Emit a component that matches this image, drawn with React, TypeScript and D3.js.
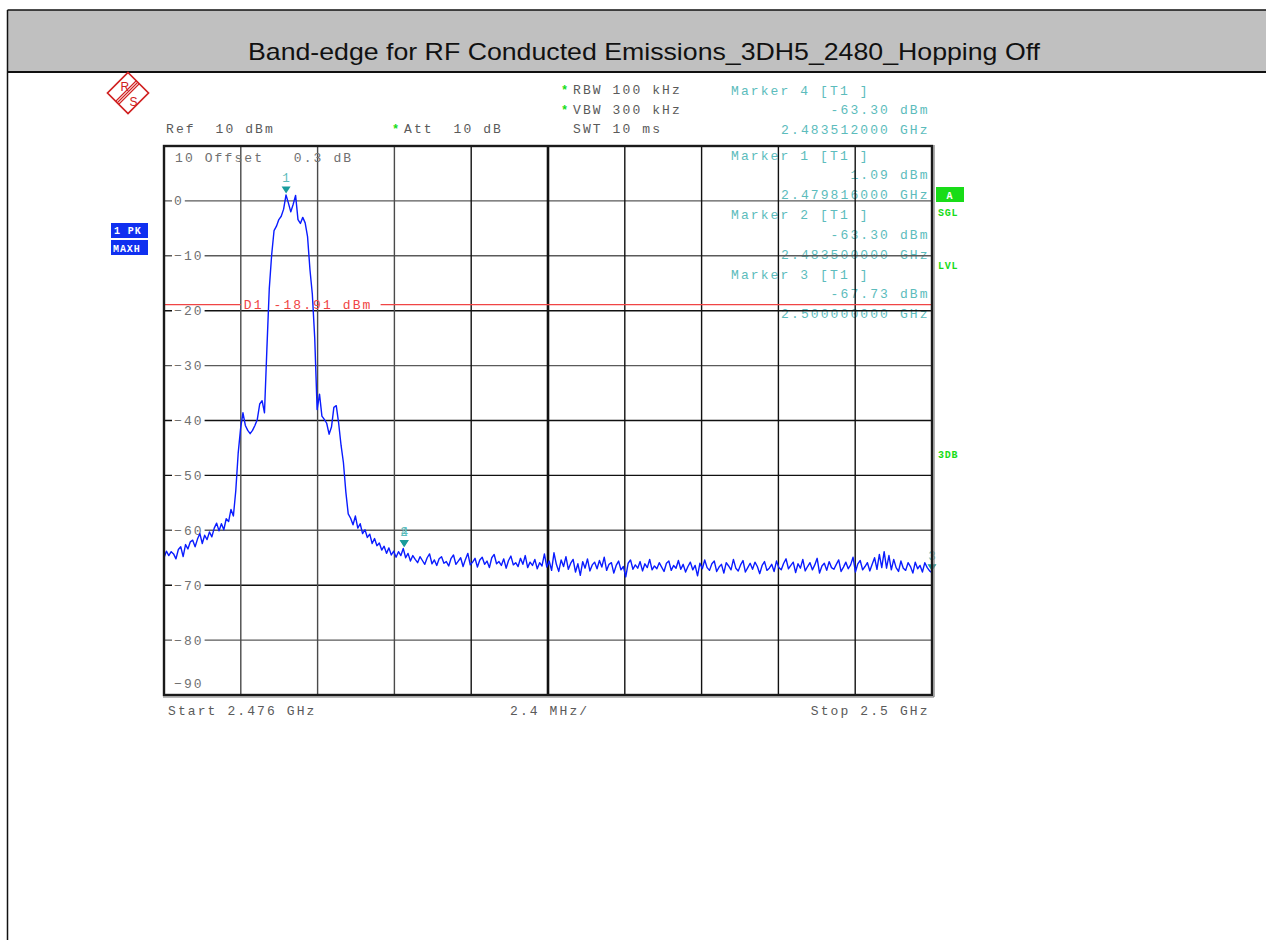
import React from 'react';
import * as d3 from 'd3';

const TITLE = 'Band-edge for RF Conducted Emissions_3DH5_2480_Hopping Off';
const START_GHZ = 2.476;
const STOP_GHZ = 2.5;
const REF_DBM = 10;
const BOTTOM_DBM = -90;
const Y_TICKS = [0, -10, -20, -30, -40, -50, -60, -70, -80];
const Y_TICK_DARK = [false, false, true, false, true, true, false, true, false];
const X_DIVISIONS = [1, 2, 3, 4, 5, 6, 7, 8, 9];
const X_DIV_DARK = [false, false, false, true, true, true, true, true, true];
const DISPLAY_LINE_DBM = -18.91;

// Trace, 321 sweep points from start to stop (dBm)
const TRACE_DBM = [
  -65.0, -63.8, -64.6, -63.9, -64.3, -65.2, -63.5, -63.0, -64.8, -62.6,
  -63.4, -62.1, -61.8, -63.0, -61.6, -60.6, -62.4, -60.9, -61.7, -60.3,
  -61.2, -59.6, -58.7, -60.1, -58.8, -59.9, -57.9, -58.4, -56.2, -57.4,
  -52.8, -46.0, -41.5, -38.6, -40.9, -41.8, -42.4, -41.8, -40.9, -39.8,
  -37.0, -36.4, -38.6, -27.0, -16.0, -9.8, -5.4, -4.6, -3.4, -2.8,
  -1.5, 1.09, -0.4, -2.0, -0.6, 1.0, -3.4, -4.1, -3.0, -4.0,
  -6.5, -12.5, -17.0, -25.0, -38.0, -35.2, -39.2, -39.8, -40.5, -42.5,
  -41.2, -37.6, -37.3, -40.5, -44.5, -47.7, -53.0, -57.0, -57.8, -59.0,
  -57.4, -59.6, -58.8, -60.6, -59.9, -61.3, -60.7, -62.4, -61.5, -62.8,
  -62.3, -63.6, -62.9, -64.2, -63.2, -64.5, -63.8, -64.9, -63.9, -64.6,
  -63.3,
  -65.0, -64.2, -65.6, -64.6, -65.3, -65.9, -64.8, -65.5, -66.2, -65.0,
  -64.3, -66.1, -65.4, -66.4, -65.2, -64.8, -66.0, -65.7, -66.5, -65.1,
  -64.5, -66.2, -65.6, -65.0, -66.6, -65.3, -64.2, -66.3, -65.8, -65.1,
  -66.7, -65.4, -64.9, -66.2, -65.6, -66.8, -65.0, -64.4, -66.1, -65.7,
  -66.4, -65.2, -66.9, -65.5, -64.7, -66.3, -65.9, -66.6, -65.1, -66.2,
  -64.6, -66.8, -65.8, -66.4, -65.3, -67.0, -65.9, -66.5, -64.3, -66.7,
  -65.6, -67.3, -64.1, -66.2, -67.5, -65.4, -66.6, -64.8, -67.1, -66.0,
  -65.3, -67.6, -66.1, -68.2, -65.7, -66.9, -65.2, -67.4, -66.3, -65.8,
  -67.0, -65.5, -66.7, -64.9, -67.3, -66.2, -65.9, -67.8, -66.4, -65.6,
  -67.2, -66.6, -68.5, -66.0, -65.4, -67.1, -66.3, -66.9, -65.7, -67.4,
  -66.1, -66.8, -65.3, -67.2, -66.5, -67.0, -65.9, -66.7, -67.5, -66.0,
  -65.6, -67.3, -66.4, -66.9, -65.5, -67.1, -66.2, -67.6, -66.6, -65.8,
  -67.2, -66.4, -68.3, -66.0, -67.0, -65.4, -66.8, -67.3, -66.1, -65.6,
  -67.5, -66.7, -66.2, -67.8, -65.9, -66.5, -67.2, -65.3, -66.9, -67.4,
  -66.3, -65.5, -67.6, -66.8, -66.0, -67.1, -65.8, -66.6, -67.9, -66.4,
  -65.7, -67.3, -66.9, -66.2, -67.5, -65.6, -66.8, -67.2, -66.0, -65.2,
  -67.0, -66.4, -65.8, -67.7, -66.1, -66.9, -65.3, -67.4, -66.6, -65.9,
  -67.2, -66.3, -65.1, -67.8, -66.5, -66.0, -67.3, -65.7, -66.8, -67.1,
  -66.2, -65.4, -67.5, -66.7, -65.8, -67.0, -66.3, -64.9, -67.6, -66.1,
  -65.5, -67.2, -66.6, -65.9, -67.4, -66.2, -65.0, -67.1, -64.4, -66.8,
  -63.9,
  -66.9, -64.6, -67.2, -65.3, -66.8, -67.5, -65.6, -66.9, -67.3, -65.9,
  -66.6, -67.8, -65.8, -67.0, -66.4, -67.6, -65.9, -66.8, -67.4, -67.73,
];

const MARKER_POINTS = [
  { label: '1', ghz: 2.479816, dbm: 1.09 },
  { label: '2', ghz: 2.4835, dbm: -63.3 },
  { label: '4', ghz: 2.483512, dbm: -63.3 },
  { label: '3', ghz: 2.5, dbm: -67.73 },
];

const MARKER_TITLES = ['Marker 4 [T1 ]', 'Marker 1 [T1 ]', 'Marker 2 [T1 ]', 'Marker 3 [T1 ]'];
const MARKER_LEVELS = ['-63.30 dBm', '1.09 dBm', '-63.30 dBm', '-67.73 dBm'];
const MARKER_FREQS = ['2.483512000 GHz', '2.479816000 GHz', '2.483500000 GHz', '2.500000000 GHz'];

const SETTINGS_LEFT = ['RBW 100 kHz', 'VBW 300 kHz', 'SWT 10 ms'];
const SETTINGS_STAR = [true, true, false];

const MONO = '"Liberation Mono", "Courier New", monospace';
const FS = 13;
const LS = 2.1;
const CW = FS * 0.6 + LS;

const GRAY_TXT = '#5a5a5a';
const TEAL_TXT = '#5cbcbc';
const TEAL_MARK = '#1a9c9c';
const RED = '#f04545';
const GREEN = '#18dc18';
const BLUE_BOX = '#1030f0';

function rightStart(s: string, right: number) {
  return right - (s.length - 1) * CW - FS * 0.6 + 0.5;
}

function Mono(props: { x: number; y: number; fill?: string; children: string; size?: number; bold?: boolean; ls?: number }) {
  return (
    <text
      x={props.x}
      y={props.y}
      fill={props.fill || GRAY_TXT}
      fontFamily={MONO}
      fontSize={props.size || FS}
      fontWeight={props.bold ? 'bold' : 'normal'}
      letterSpacing={props.ls !== undefined ? props.ls : LS}
      style={{ whiteSpace: 'pre' }}
    >
      {props.children}
    </text>
  );
}

export default function App() {
  const L = 164, R = 932, T = 146, B = 695;
  const x = d3.scaleLinear().domain([START_GHZ, STOP_GHZ]).range([L, R]);
  const y = d3.scaleLinear().domain([BOTTOM_DBM, REF_DBM]).range([B, T]);
  const n = TRACE_DBM.length;
  const freqOf = (i: number) => START_GHZ + ((STOP_GHZ - START_GHZ) * i) / (n - 1);
  const line = d3
    .line<number>()
    .x((_, i) => x(freqOf(i)))
    .y((d) => y(d));
  const divGhz = (STOP_GHZ - START_GHZ) / 10;

  const dl = y(DISPLAY_LINE_DBM);
  const dlLabel = 'D1 -18.91 dBm';
  const dlStart = x(START_GHZ + divGhz) + 3;
  const dlEnd = dlStart + (dlLabel.length - 1) * CW + 8 + 10;

  const markerRowsY = [90, 155, 214.5, 274.3];

  return (
    <svg width={1266} height={940} style={{ position: 'absolute', left: 0, top: 0, background: '#fff' }}>
      {/* page frame and title band */}
      <rect x={8} y={10} width={1266} height={62} fill="#c0c0c0" />
      <line x1={7.5} y1={10} x2={1266} y2={10} stroke="#111" strokeWidth={1.5} />
      <line x1={7.5} y1={72} x2={1266} y2={72} stroke="#111" strokeWidth={2} />
      <line x1={7.5} y1={10} x2={7.5} y2={940} stroke="#111" strokeWidth={1.5} />
      <text
        x={644}
        y={60}
        textAnchor="middle"
        fontFamily='"Liberation Sans", Arial, sans-serif'
        fontSize={24}
        fill="#111"
        textLength={792}
        lengthAdjust="spacingAndGlyphs"
      >
        {TITLE}
      </text>

      {/* R&S logo */}
      <g transform="translate(128,93)" stroke="#d02020" fill="none" strokeWidth={1.7}>
        <path d="M0,-20.5 L20.5,0 L0,20.5 L-20.5,0 Z" />
        <line x1={9.5} y1={-10.5} x2={-10.5} y2={9.5} strokeWidth={1.1} />
        <line x1={11} y1={-9} x2={-9} y2={11} strokeWidth={1.1} />
        <line x1={8} y1={-12} x2={-12} y2={8} strokeWidth={1.1} />
        <text x={-7.5} y={-2} fill="#d02020" stroke="none" fontFamily='"Liberation Sans", Arial' fontSize={12}>R</text>
        <text x={1.5} y={13} fill="#d02020" stroke="none" fontFamily='"Liberation Sans", Arial' fontSize={12}>S</text>
      </g>

      {/* settings header */}
      <Mono x={166} y={133}>{'Ref  10 dBm'}</Mono>
      <text x={392} y={133} fill={GREEN} fontFamily={MONO} fontSize={12} fontWeight="bold">*</text>
      <Mono x={404} y={133}>{'Att  10 dB'}</Mono>
      {SETTINGS_LEFT.map((s, i) => (
        <g key={s}>
          {SETTINGS_STAR[i] && (
            <text x={561} y={94 + i * 19.5} fill={GREEN} fontFamily={MONO} fontSize={12} fontWeight="bold">*</text>
          )}
          <Mono x={573} y={94 + i * 19.5}>{s}</Mono>
        </g>
      ))}

      {/* side labels */}
      <rect x={111} y={223} width={37} height={15} fill={BLUE_BOX} />
      <Mono x={114} y={234} fill="#fff" size={10} bold ls={0.9}>{'1 PK'}</Mono>
      <rect x={111} y={240} width={37} height={15} fill={BLUE_BOX} />
      <Mono x={113} y={251.5} fill="#fff" size={10} bold ls={0.9}>{'MAXH'}</Mono>

      <rect x={936} y={187} width={28} height={15} fill={GREEN} />
      <Mono x={946.5} y={198.5} fill="#fff" size={10} bold ls={0}>{'A'}</Mono>
      <Mono x={938} y={216} fill={GREEN} size={10} bold ls={0.8}>{'SGL'}</Mono>
      <Mono x={938} y={268.5} fill={GREEN} size={10} bold ls={0.8}>{'LVL'}</Mono>
      <Mono x={938} y={458} fill={GREEN} size={10} bold ls={0.8}>{'3DB'}</Mono>

      {/* marker readouts (drawn under grid) */}
      {MARKER_TITLES.map((t, i) => (
        <g key={t + i}>
          <Mono x={731} y={markerRowsY[i] + 4.5} fill={TEAL_TXT}>{t}</Mono>
          <Mono x={rightStart(MARKER_LEVELS[i], 927)} y={markerRowsY[i] + 19.5 + 4.5} fill={TEAL_TXT}>
            {MARKER_LEVELS[i]}
          </Mono>
          <Mono x={rightStart(MARKER_FREQS[i], 927)} y={markerRowsY[i] + 39.5 + 4.5} fill={TEAL_TXT}>
            {MARKER_FREQS[i]}
          </Mono>
        </g>
      ))}

      {/* grid */}
      {Y_TICKS.map((v, i) => (
        <line key={'h' + v} x1={L} x2={R} y1={y(v)} y2={y(v)} stroke={Y_TICK_DARK[i] ? '#111' : '#5a5a5a'} strokeWidth={1.4} />
      ))}
      {X_DIVISIONS.map((k, i) => (
        <line
          key={'v' + k}
          x1={x(START_GHZ + k * divGhz)}
          x2={x(START_GHZ + k * divGhz)}
          y1={T}
          y2={B}
          stroke={X_DIV_DARK[i] ? '#111' : '#4a4a4a'}
          strokeWidth={k === 5 ? 2.6 : 1.4}
        />
      ))}

      {/* y labels */}
      {Y_TICKS.map((v) => {
        const s = String(v).replace('-', '\u2212');
        const w = (s.length - 1) * CW + FS * 0.6;
        return (
          <g key={'yl' + v}>
            <rect x={172} y={y(v) - 6} width={w + 5} height={12} fill="#fff" />
            <Mono x={174} y={y(v) + 4.5} fill="#707070">{s}</Mono>
          </g>
        );
      })}
      <Mono x={175} y={162} fill="#707070">{'10 Offset   0.3 dB'}</Mono>
      <Mono x={174} y={688} fill="#707070">{'\u221290'}</Mono>

      {/* display line D1 */}
      <line x1={L} x2={dlStart - 3} y1={dl} y2={dl} stroke={RED} strokeWidth={1.3} />
      <line x1={dlEnd} x2={R} y1={dl} y2={dl} stroke={RED} strokeWidth={1.3} />
      <Mono x={dlStart} y={dl + 4.5} fill={RED}>{dlLabel}</Mono>

      {/* trace */}
      <path d={line(TRACE_DBM) || ''} fill="none" stroke="#0a1cff" strokeWidth={1.4} strokeLinejoin="round" />

      {/* markers */}
      {MARKER_POINTS.map((m) => {
        const mx = x(m.ghz);
        const my = y(m.dbm) - 1.5;
        return (
          <g key={'m' + m.label}>
            <path d={`M${mx - 4.5},${my - 7} L${mx + 4.5},${my - 7} L${mx},${my} Z`} fill={TEAL_MARK} />
            <text x={mx} y={my - 11} textAnchor="middle" fill={TEAL_TXT} fontFamily={MONO} fontSize={12.5}>
              {m.label}
            </text>
          </g>
        );
      })}

      {/* plot frame */}
      <rect x={L} y={T} width={R - L} height={B - T} fill="none" stroke="#1a1a1a" strokeWidth={2.4} />
      <line x1={R + 2} x2={R + 2} y1={T - 1} y2={B + 2} stroke="#777" strokeWidth={1.2} />
      <line x1={L - 1} x2={R + 2} y1={B + 2} y2={B + 2} stroke="#777" strokeWidth={1.2} />

      {/* x labels */}
      <Mono x={168} y={715}>{'Start 2.476 GHz'}</Mono>
      <Mono x={510} y={715}>{'2.4 MHz/'}</Mono>
      <Mono x={rightStart('Stop 2.5 GHz', 927)} y={715}>{'Stop 2.5 GHz'}</Mono>
    </svg>
  );
}
